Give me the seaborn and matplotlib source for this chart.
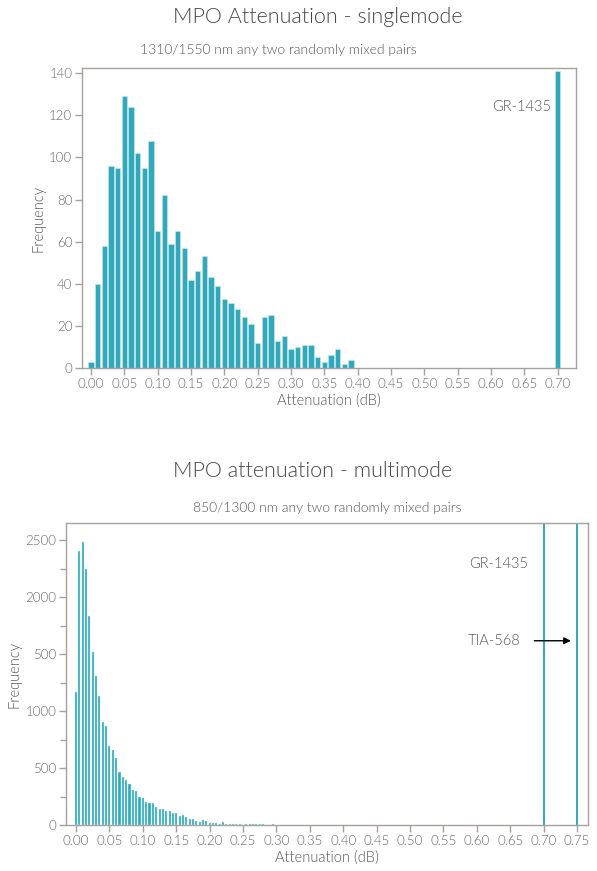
import matplotlib
matplotlib.use("Agg")
import matplotlib.pyplot as plt
import numpy as np
import pandas as pd
import seaborn as sns

# singlemode histogram: 0.01 dB bins centred on 0.00 .. 0.39
sm_counts = [3, 40, 58, 96, 95, 129, 124, 102, 95, 108,
             65, 82, 59, 65, 57, 42, 46, 53, 43, 39,
             33, 31, 28, 24, 21, 12, 24, 25, 13, 15,
             9, 10, 11, 11, 5, 3, 6, 9, 2, 4]
sm_centers = np.round(np.arange(len(sm_counts)) * 0.01, 3)
sm_gr_x = 0.70
sm_gr_count = 141

# multimode histogram: 0.005 dB bins centred on 0.000 .. 0.295
mm_counts = [1170, 2405, 2480, 2245, 1835, 1515, 1310, 1130, 905, 870,
             690, 655, 590, 465, 420, 395, 360, 305, 300, 245,
             235, 205, 190, 190, 155, 140, 138, 125, 120, 103,
             106, 80, 88, 68, 50, 50, 38, 27, 44, 35,
             21, 18, 18, 6, 24, 12, 9, 9, 6, 9,
             3, 12, 6, 6, 6, 6, 5, 0, 0, 9]
mm_centers = np.round(np.arange(len(mm_counts)) * 0.005, 4)
mm_limits = {"GR-1435": 0.70, "TIA-568": 0.75}

sm_xticks = np.round(np.arange(0, 0.701, 0.05), 2)
mm_xticks = np.round(np.arange(0, 0.751, 0.05), 2)
sm_yticks = [0, 20, 40, 60, 80, 100, 120, 140]
mm_yticks = [0, 500, 1000, 1500, 2000, 2500]
mm_ylabels = ["0", "500", "1000", "500", "2000", "2500"]

sm_df = pd.DataFrame({"att": np.append(sm_centers, sm_gr_x),
                      "n": np.append(sm_counts, sm_gr_count)})
mm_df = pd.DataFrame({"att": mm_centers, "n": mm_counts})

sns.set_style("white")
plt.rcParams["font.family"] = ["Lato", "DejaVu Sans"]
plt.rcParams["font.weight"] = 300
plt.rcParams["axes.labelweight"] = 300

bar_color = "#31a9ba"
spine_color = "#a7a19d"
text_color = "#555555"

fig = plt.figure(figsize=(5.97, 8.71), dpi=100)
ax1 = fig.add_axes([0.1374, 0.5775, 0.8275, 0.3444])
ax2 = fig.add_axes([0.1106, 0.0528, 0.8744, 0.3467])

# --- singlemode ---
sns.histplot(data=sm_df, x="att", weights="n", binwidth=0.01, binrange=(-0.005, 0.705),
             shrink=0.78, color=bar_color, edgecolor="#c9ecf1", linewidth=0.4,
             alpha=1, ax=ax1)
ax1.set_xlim(-0.0135, 0.7276)
ax1.set_ylim(0, 142.5)
ax1.set_xticks(sm_xticks)
ax1.set_xticklabels([f"{v:.2f}" for v in sm_xticks])
ax1.set_yticks(sm_yticks)
ax1.text(0.69, 124, "GR-1435", ha="right", va="center", fontsize=10.5, color=text_color)

# --- multimode ---
sns.histplot(data=mm_df, x="att", weights="n", binwidth=0.005, binrange=(-0.0025, 0.2975),
             shrink=0.62, color=bar_color, edgecolor="#c9ecf1", linewidth=0.3,
             alpha=1, ax=ax2)
for name, xv in mm_limits.items():
    ax2.axvline(xv, color=bar_color, lw=1.4)
ax2.set_xlim(-0.015, 0.7665)
ax2.set_ylim(0, 2650)
ax2.set_xticks(mm_xticks)
ax2.set_xticklabels([f"{v:.2f}" for v in mm_xticks])
ax2.set_yticks(mm_yticks)
ax2.set_yticklabels(mm_ylabels)
ax2.set_yticks(np.arange(250, 2650, 500), minor=True)
ax2.text(0.677, 2290, "GR-1435", ha="right", va="center", fontsize=10.5, color=text_color)
ax2.text(0.665, 1617, "TIA-568", ha="right", va="center", fontsize=10.5, color=text_color)
ax2.annotate("", xy=(0.745, 1617), xytext=(0.682, 1617),
             arrowprops=dict(arrowstyle="-|>", color="black", lw=1, mutation_scale=10))

for ax in (ax1, ax2):
    for sp in ax.spines.values():
        sp.set_color(spine_color)
        sp.set_linewidth(1.0)
    ax.tick_params(axis="both", which="both", direction="out", color=spine_color,
                   length=5, width=1, labelsize=9.5, labelcolor="#666666", pad=2,
                   bottom=True, left=True)
    ax.tick_params(axis="y", which="minor", length=4)
    ax.set_xlabel("Attenuation (dB)", fontsize=10.5, color=text_color, labelpad=3)
    ax.set_ylabel("Frequency", fontsize=10.5, color=text_color, labelpad=3)

fig.text(0.5327, 0.9805, "MPO Attenuation - singlemode", ha="center", va="center",
         fontsize=15.5, color="#444444")
fig.text(0.4657, 0.9426, "1310/1550 nm any two randomly mixed pairs", ha="center",
         va="center", fontsize=10, color=text_color)
fig.text(0.524, 0.4592, "MPO attenuation - multimode", ha="center", va="center",
         fontsize=15.5, color="#444444")
fig.text(0.5477, 0.4168, "850/1300 nm any two randomly mixed pairs", ha="center",
         va="center", fontsize=10, color=text_color)

fig.savefig("out.png", dpi=100)
